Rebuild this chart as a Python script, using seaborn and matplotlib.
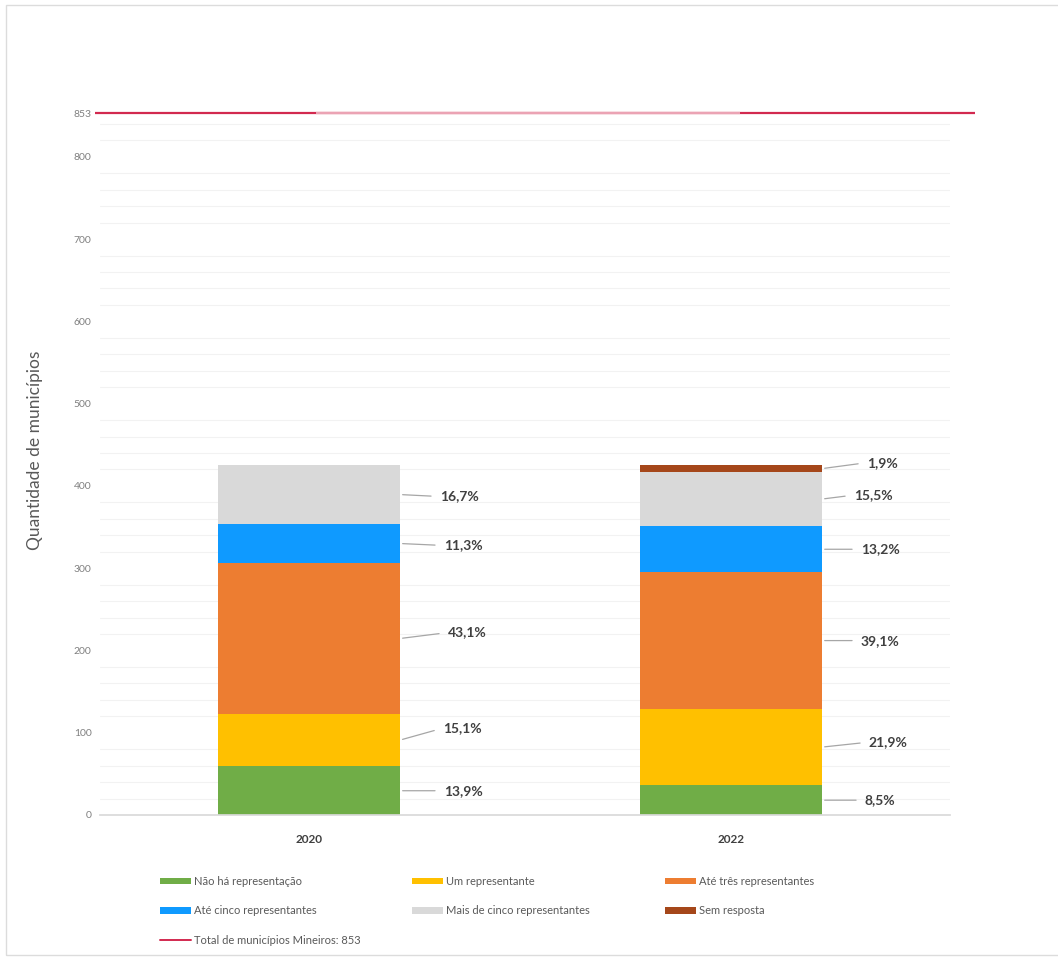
import matplotlib
matplotlib.use("Agg")
import matplotlib.pyplot as plt
from matplotlib.patches import Patch, Rectangle
from matplotlib.lines import Line2D
import numpy as np
import pandas as pd
import seaborn as sns

# ---- data -------------------------------------------------------------
years = ["2020", "2022"]
categories = [
    "Não há representação",
    "Um representante",
    "Até três representantes",
    "Até cinco representantes",
    "Mais de cinco representantes",
    "Sem resposta",
]
counts_2020 = [59, 64, 183, 48, 71, 0]
counts_2022 = [36, 93, 166, 56, 66, 8]
pct_2020 = ["13,9%", "15,1%", "43,1%", "11,3%", "16,7%", None]
pct_2022 = ["8,5%", "21,9%", "39,1%", "13,2%", "15,5%", "1,9%"]
total_municipios = 853
total_label = "Total de municípios Mineiros: 853"
y_ticks = [0, 100, 200, 300, 400, 500, 600, 700, 800, 853]

colors = ["#70ad47", "#ffc000", "#ed7d31", "#0f9aff", "#d9d9d9", "#a5471a"]

# label offsets in pixels (dx from bar edge, dy from segment centre)
offsets_2020 = [(44, 0), (43, 12), (48, 6), (44, -2), (40, -2), None]
offsets_2022 = [(43, 0), (47, 5), (39, 0), (39, 0), (32, 4), (45, 6)]

# ---- style ------------------------------------------------------------
sns.set_theme(style="white")
plt.rcParams["font.family"] = ["Lato", "DejaVu Sans"]

W, H = 1058, 960
fig = plt.figure(figsize=(W / 100, H / 100), dpi=100)
fig.patch.set_facecolor("white")
fig.add_artist(Rectangle((6 / W, 5 / H), 1.0, 950 / H, transform=fig.transFigure,
                         fill=False, edgecolor="#dcdcdc", lw=1.0))

ax = fig.add_axes([100 / W, 1 - 815 / H, 850 / W, 724 / H])

# ---- stacked bars (cumulative overlay, tallest first) -----------------
df = pd.DataFrame({"ano": np.repeat(years, len(categories)),
                   "categoria": categories * 2,
                   "n": counts_2020 + counts_2022})
df["cum"] = df.groupby("ano")["n"].cumsum()
bar_w = 0.431
for cat, col in reversed(list(zip(categories, colors))):
    sub = df[df["categoria"] == cat]
    sns.barplot(data=sub, x="ano", y="cum", order=years, color=col,
                saturation=1, width=bar_w, ax=ax, errorbar=None, linewidth=0)

ax.set_xlim(-0.495, 1.519)
ax.set_ylim(0, 880)

# ---- percent labels with leader lines --------------------------------
for xi, (counts, pcts, offs) in enumerate([(counts_2020, pct_2020, offsets_2020),
                                           (counts_2022, pct_2022, offsets_2022)]):
    base = 0
    for n, p, o in zip(counts, pcts, offs):
        if p is not None and n > 0:
            yc = base + n / 2
            ax.annotate(p, xy=(xi + bar_w / 2, yc), xytext=o,
                        textcoords="offset pixels", ha="left", va="center",
                        fontsize=10, fontweight="bold", color="#404040",
                        arrowprops=dict(arrowstyle="-", color="#a6a6a6", lw=0.9,
                                        shrinkA=4, shrinkB=2, relpos=(0, 0.5)))
        base += n

# ---- total line ------------------------------------------------------
ax.plot([-0.507, 1.578], [total_municipios] * 2, color="#d2294f", lw=1.6,
        clip_on=False, solid_capstyle="butt", zorder=5)
ax.plot([0.016, 1.021], [total_municipios] * 2, color="#eba3b4", lw=1.6,
        clip_on=False, solid_capstyle="butt", zorder=6)

# ---- axes styling ----------------------------------------------------
ax.set_yticks(y_ticks)
ax.set_yticklabels([str(t) for t in y_ticks], fontsize=7.5, color="#808080")
ax.set_yticks(np.arange(0, 860, 20), minor=True)
ax.yaxis.grid(True, which="minor", color="#f2f2f2", lw=0.8)
ax.yaxis.grid(False, which="major")
ax.set_axisbelow(True)
ax.tick_params(axis="both", which="both", length=0)
ax.tick_params(axis="y", pad=6)
ax.tick_params(axis="x", pad=14)
ax.set_xticks([0, 1])
ax.set_xticklabels(years, fontsize=8.5, fontweight="bold", color="#404040")
for s in ["top", "right", "left"]:
    ax.spines[s].set_visible(False)
ax.spines["bottom"].set_color("#d9d9d9")
ax.set_xlabel("")
ax.set_ylabel("")
fig.text(35 / W, 1 - 450 / H, "Quantidade de municípios", rotation=90,
         ha="center", va="center", fontsize=12.5, color="#595959")

# ---- legend (three columns placed side by side) -----------------------
def patch(i):
    return Patch(facecolor=colors[i], edgecolor="none", label=categories[i])

line_handle = Line2D([], [], color="#d2294f", lw=1.4, label=total_label)
columns = [([patch(0), patch(3), line_handle], 160),
           ([patch(1), patch(4)], 412),
           ([patch(2), patch(5)], 665)]
for handles, x0 in columns:
    leg = fig.legend(handles=handles, loc="upper left",
                     bbox_to_anchor=(x0 / W, 1 - 876 / H), frameon=False,
                     fontsize=8, handlelength=2.8, handleheight=0.55,
                     handletextpad=0.3, labelspacing=1.65, borderpad=0,
                     borderaxespad=0)
    for t in leg.get_texts():
        t.set_color("#595959")

fig.savefig("out.png", dpi=100, facecolor="white")
